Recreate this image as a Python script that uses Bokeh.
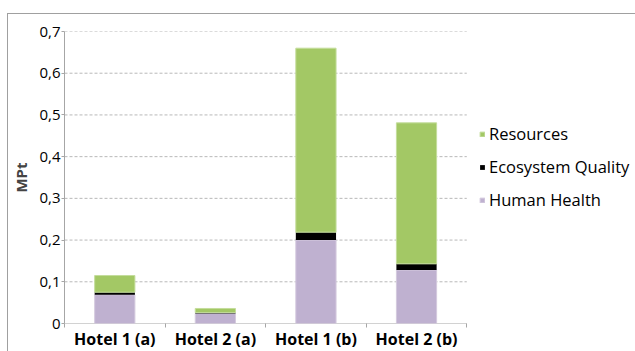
from bokeh.plotting import figure
from bokeh.models import FixedTicker, Legend, LegendItem, ColumnDataSource
from bokeh.embed import file_html
from bokeh.resources import INLINE

hotels = ["Hotel 1 (a)", "Hotel 2 (a)", "Hotel 1 (b)", "Hotel 2 (b)"]
human_health = [0.069, 0.024, 0.200, 0.128]
ecosystem_quality = [0.006, 0.002, 0.019, 0.015]
resources = [0.040, 0.010, 0.441, 0.338]
y_ticks = [0, 0.1, 0.2, 0.3, 0.4, 0.5, 0.6, 0.7]
y_tick_labels = ["0", "0,1", "0,2", "0,3", "0,4", "0,5", "0,6", "0,7"]

FONT = "Open Sans"
n = len(hotels)
x = [i + 0.5 for i in range(n)]
hh_top = human_health
eq_top = [a + b for a, b in zip(human_health, ecosystem_quality)]
rs_top = [a + b for a, b in zip(eq_top, resources)]
src = ColumnDataSource(dict(x=x, hh=hh_top, eq=eq_top, rs=rs_top, zero=[0] * n))

FIG_W, FIG_H = 628, 338
LEFT = 55
frame_w = FIG_W - LEFT
cat_w = 403  # pixel width used by the categories
x_end = n * frame_w / cat_w

p = figure(width=FIG_W, height=FIG_H, x_range=(0, x_end), y_range=(0, 0.7),
           output_backend="svg", toolbar_location=None,
           min_border_left=LEFT, min_border_right=0, min_border_top=17, min_border_bottom=29)
p.margin = (13, 0, 0, 7)
p.styles = {"border-top": "1px solid #a0a0a0", "border-left": "1px solid #a0a0a0"}
p.outline_line_color = None
p.xgrid.grid_line_color = None
p.ygrid.grid_line_color = None

# dashed gridlines only over the category area
grid_y = y_ticks[1:]
p.segment(x0=[0] * len(grid_y), x1=[n] * len(grid_y), y0=grid_y, y1=grid_y,
          line_color="#b8b8b8", line_dash="3 2", line_width=1)
# x axis baseline over the category area
p.segment(x0=[0], x1=[n], y0=[0], y1=[0], line_color="#a6a6a6", line_width=1)

w = 0.4
r_hh = p.vbar(x="x", bottom="zero", top="hh", width=w, source=src,
              fill_color="#bfb1d0", line_color="#d4cade", line_width=1)
r_eq = p.vbar(x="x", bottom="hh", top="eq", width=w, source=src,
              fill_color="#000000", line_color="#000000", line_width=0)
r_rs = p.vbar(x="x", bottom="eq", top="rs", width=w, source=src,
              fill_color="#a3c865", line_color="#c4dd9c", line_width=1)

p.yaxis.ticker = FixedTicker(ticks=y_ticks)
p.yaxis.major_label_overrides = {t: l for t, l in zip(y_ticks, y_tick_labels)}
p.yaxis.axis_label = "MPt"
p.yaxis.axis_label_text_font = FONT
p.yaxis.axis_label_text_font_style = "bold"
p.yaxis.axis_label_text_font_size = "15px"
p.yaxis.axis_label_standoff = 5
p.yaxis.major_label_text_font = FONT
p.yaxis.major_label_text_font_size = "15px"
p.yaxis.major_label_text_color = "#000000"
p.yaxis.major_label_standoff = 1
p.yaxis.axis_line_color = "#a6a6a6"
p.yaxis.major_tick_line_color = "#a6a6a6"
p.yaxis.major_tick_out = 3
p.yaxis.major_tick_in = 0
p.yaxis.minor_tick_line_color = None

p.xaxis.ticker = FixedTicker(ticks=x, minor_ticks=list(range(n + 1)))
p.xaxis.major_label_overrides = {xi: h for xi, h in zip(x, hotels)}
p.xaxis.major_label_text_font = FONT
p.xaxis.major_label_text_font_style = "bold"
p.xaxis.major_label_text_font_size = "16px"
p.xaxis.major_label_text_color = "#000000"
p.xaxis.major_label_standoff = 0
p.xaxis.major_tick_out = 0
p.xaxis.major_tick_in = 0
p.xaxis.major_tick_line_color = None
p.xaxis.minor_tick_out = 4
p.xaxis.minor_tick_in = 0
p.xaxis.minor_tick_line_color = "#a6a6a6"
p.xaxis.axis_line_color = None

legend = Legend(items=[
    LegendItem(label="Resources", renderers=[r_rs]),
    LegendItem(label="Ecosystem Quality", renderers=[r_eq]),
    LegendItem(label="Human Health", renderers=[r_hh]),
], location=(cat_w + 12, 112))
legend.border_line_color = None
legend.background_fill_alpha = 0
legend.padding = 0
legend.margin = 0
legend.spacing = 10
legend.glyph_width = 6
legend.glyph_height = 6
legend.label_height = 20
legend.label_standoff = 4
legend.label_text_font = FONT
legend.label_text_font_size = "16.5px"
legend.label_text_color = "#000000"
p.add_layout(legend, "center")

open("out.html", "w").write(file_html(p, INLINE))
